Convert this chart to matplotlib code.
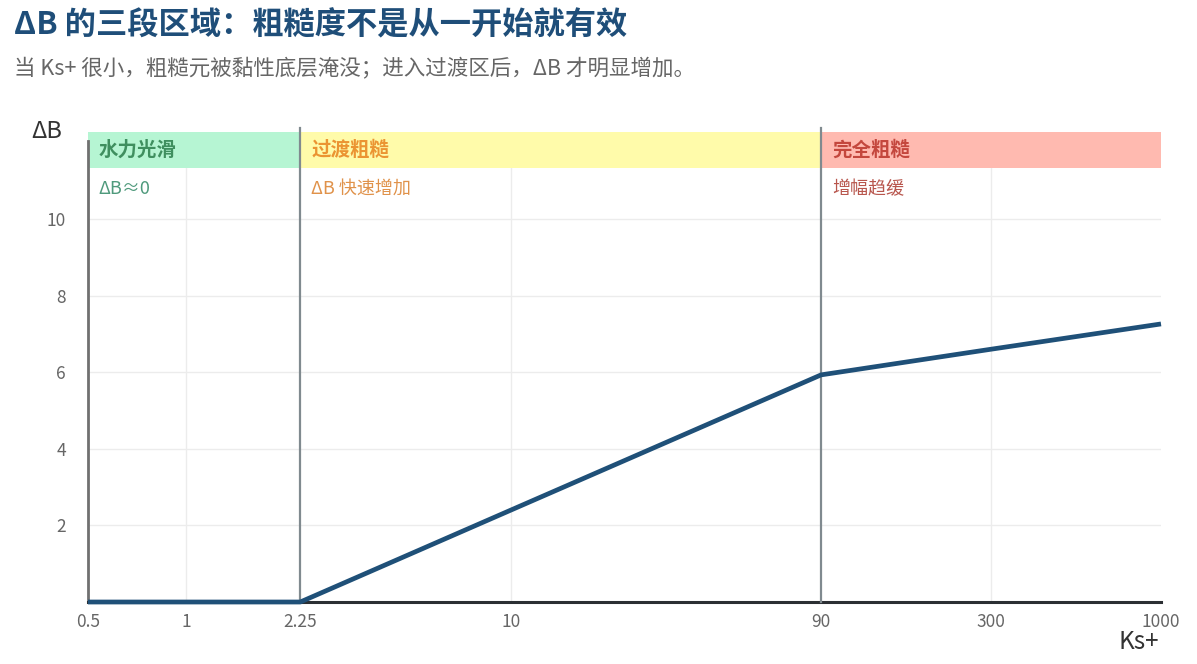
import matplotlib
matplotlib.use("Agg")
import matplotlib.pyplot as plt
from matplotlib.transforms import blended_transform_factory

plt.rcParams['font.family'] = ['Noto Sans CJK SC', 'DejaVu Sans']

# ---- data ----
ks_plus = [0.5, 2.25, 10, 90, 300, 1000]
delta_b = [0.0, 0.0, 2.4, 5.93, 6.6, 7.26]
x_ticks = [0.5, 1, 2.25, 10, 90, 300, 1000]
x_tick_labels = ["0.5", "1", "2.25", "10", "90", "300", "1000"]
y_ticks = [2, 4, 6, 8, 10]
region_bounds = [0.5, 2.25, 90, 1000]
region_names = ["水力光滑", "过渡粗糙", "完全粗糙"]
region_notes = ["ΔB≈0", "ΔB 快速增加", "增幅趋缓"]
region_fill = ["#b6f5d3", "#fffbaa", "#ffbab0"]
region_title_color = ["#3f8f5f", "#eb9432", "#c4473d"]
region_note_color = ["#4f9a7c", "#e0924a", "#b8564d"]
boundaries = [2.25, 90]

W, H = 1197, 664
fig = plt.figure(figsize=(W / 100, H / 100), dpi=100)
L, R, B, T = 88, 1161, 602, 132
ax = fig.add_axes([L / W, 1 - B / H, (R - L) / W, (B - T) / H])

ax.set_xscale("log")
ax.set_xlim(0.5, 1000)
ax.set_ylim(0, (B - T) / 38.3)

# grid
for xv in [1, 10, 300]:
    ax.axvline(xv, color="#ececec", lw=1, zorder=0)
for yv in y_ticks:
    ax.axhline(yv, color="#ececec", lw=1, zorder=0)

# bands
band_bottom = (B - 168) / (B - T)
trans = blended_transform_factory(ax.transData, ax.transAxes)
for i in range(3):
    x0, x1 = region_bounds[i], region_bounds[i + 1]
    ax.fill_between([x0, x1], [band_bottom] * 2, [1.0] * 2, color=region_fill[i],
                    transform=trans, zorder=1, lw=0)
    ax.text(x0 * 1.08, (band_bottom + 1) / 2, region_names[i], transform=trans,
            ha="left", va="center", fontsize=14, fontweight="bold",
            color=region_title_color[i], zorder=5)
    ax.text(x0 * 1.08, band_bottom - 0.045, region_notes[i], transform=trans,
            ha="left", va="center", fontsize=13, color=region_note_color[i], zorder=5)

for bx in boundaries:
    ax.plot([bx, bx], [0, 1.009], transform=trans, color="#808a8f", lw=1.6,
            clip_on=False, zorder=4)

# curve
ax.plot(ks_plus, delta_b, color="#1f5078", lw=3.4, solid_capstyle="butt", zorder=6,
        clip_on=False)

# spines
for s in ["top", "right"]:
    ax.spines[s].set_visible(False)
ax.spines["bottom"].set_color("#2b2f33")
ax.spines["bottom"].set_linewidth(2.2)
ax.spines["left"].set_color("#707070")
ax.spines["left"].set_linewidth(2.0)
ax.spines["left"].set_bounds(0, ax.get_ylim()[1] * 0.98)

ax.set_xticks(x_ticks)
ax.set_xticklabels(x_tick_labels)
ax.minorticks_off()
ax.set_yticks(y_ticks)
ax.set_yticklabels([str(v) for v in y_ticks])
ax.tick_params(axis="both", length=0, labelsize=12.5, colors="#666666")
ax.tick_params(axis="x", pad=8)
ax.tick_params(axis="y", pad=16)

# axis labels
fig.text(31 / W, 1 - 131 / H, "ΔB", fontsize=17, color="#333333", ha="left", va="center")
fig.text(1159 / W, 1 - 642 / H, "Ks+", fontsize=17.5, color="#333333", ha="right", va="center")

# titles
fig.text(14 / W, 1 - 25 / H, "ΔB 的三段区域：粗糙度不是从一开始就有效", fontsize=22.5,
         fontweight="bold", color="#1f4e79", ha="left", va="center")
fig.text(14 / W, 1 - 69 / H, "当 Ks+ 很小，粗糙元被黏性底层淹没；进入过渡区后，ΔB 才明显增加。",
         fontsize=15.5, color="#666666", ha="left", va="center")

fig.savefig("out.png", dpi=100, facecolor="white")
